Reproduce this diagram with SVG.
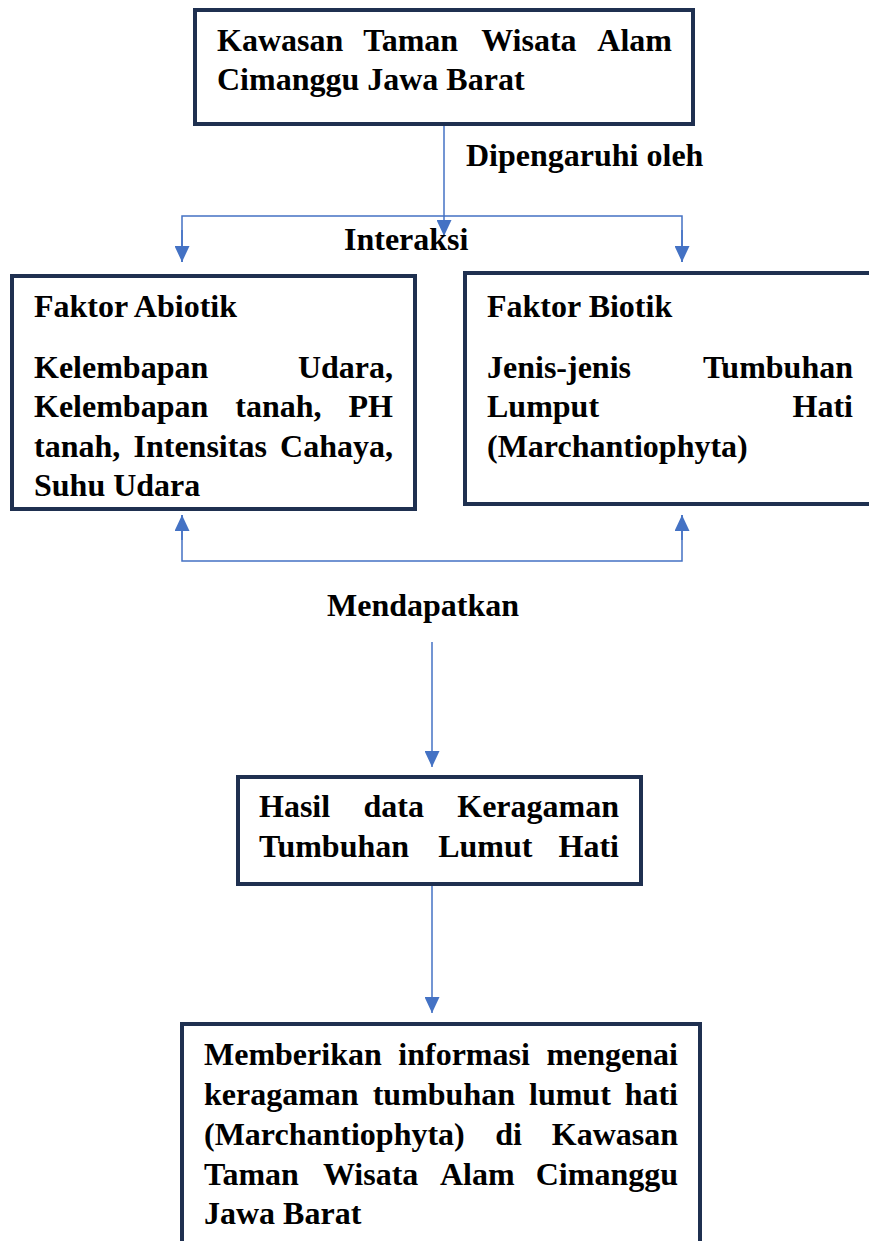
<svg xmlns="http://www.w3.org/2000/svg" width="869" height="1241" viewBox="0 0 869 1241">
<style>
.box{fill:#fff;stroke:#1f3050;stroke-width:4}
.t{font-family:"Liberation Serif","Times New Roman",serif;font-weight:bold;font-size:32px;fill:#000}
.e{text-anchor:end}
.c{fill:none;stroke:#4472c4;stroke-width:1.5}
</style>
<defs>
<marker id="ah" markerUnits="userSpaceOnUse" markerWidth="16" markerHeight="15" refX="16" refY="7.5" orient="auto">
<path d="M0,0 L16,7.5 L0,15 z" fill="#4472c4"/>
</marker>
</defs>
<rect width="869" height="1241" fill="#fff"/>
<g id="connectors">
<line class="c" x1="444" y1="124" x2="444" y2="236" marker-end="url(#ah)"/>
<polyline class="c" points="182,262 182,216 682,216 682,262" />
<line class="c" x1="182" y1="230" x2="182" y2="262" marker-end="url(#ah)"/>
<line class="c" x1="682" y1="230" x2="682" y2="262" marker-end="url(#ah)"/>
<polyline class="c" points="182,515 182,561 682,561 682,515"/>
<line class="c" x1="182" y1="540" x2="182" y2="515" marker-end="url(#ah)"/>
<line class="c" x1="682" y1="540" x2="682" y2="515" marker-end="url(#ah)"/>
<line class="c" x1="432" y1="642" x2="432" y2="767" marker-end="url(#ah)"/>
<line class="c" x1="432" y1="886" x2="432" y2="1013" marker-end="url(#ah)"/>
</g>
<g id="labels">
<text class="t" x="466" y="166">Dipengaruhi oleh</text>
<text class="t" x="344" y="250">Interaksi</text>
<text class="t" x="327" y="616">Mendapatkan</text>
</g>
<g id="node-kawasan">
<rect class="box" x="195" y="10" width="498" height="114"/>
<text class="t" y="51"><tspan x="217">Kawasan</tspan><tspan x="363.3">Taman</tspan><tspan x="481.2">Wisata</tspan><tspan x="672" class="e" text-anchor="end">Alam</tspan></text>
<text class="t" x="217" y="90">Cimanggu Jawa Barat</text>
</g>
<g id="node-abiotik">
<rect class="box" x="12" y="276" width="403" height="233"/>
<text class="t" x="34" y="317">Faktor Abiotik</text>
<text class="t" x="34" y="378">Kelembapan</text>
<text class="t e" x="393" y="378">Udara,</text>
<text class="t" y="417"><tspan x="34">Kelembapan</tspan><tspan x="235.3">tanah,</tspan></text>
<text class="t e" x="393" y="417">PH</text>
<text class="t" y="457"><tspan x="34">tanah,</tspan><tspan x="133.5">Intensitas</tspan></text>
<text class="t e" x="393" y="457">Cahaya,</text>
<text class="t" x="34" y="496">Suhu Udara</text>
</g>
<g id="node-biotik">
<rect class="box" x="465" y="273" width="430" height="231"/>
<text class="t" x="487" y="317">Faktor Biotik</text>
<text class="t" x="487" y="378">Jenis-jenis</text>
<text class="t e" x="853" y="378">Tumbuhan</text>
<text class="t" x="487" y="417">Lumput</text>
<text class="t e" x="853" y="417">Hati</text>
<text class="t" x="487" y="457">(Marchantiophyta)</text>
</g>
<g id="node-hasil">
<rect class="box" x="238" y="777" width="403" height="107"/>
<text class="t" y="817"><tspan x="259">Hasil</tspan><tspan x="363.5">data</tspan></text>
<text class="t e" x="619" y="817">Keragaman</text>
<text class="t" y="857"><tspan x="259">Tumbuhan</tspan><tspan x="438.2">Lumut</tspan></text>
<text class="t e" x="619" y="857">Hati</text>
</g>
<g id="node-informasi">
<rect class="box" x="182" y="1024" width="518" height="240"/>
<text class="t" y="1065"><tspan x="204">Memberikan</tspan><tspan x="398.3">informasi</tspan></text>
<text class="t e" x="678" y="1065">mengenai</text>
<text class="t" y="1105"><tspan x="204">keragaman</tspan><tspan x="372.7">tumbuhan</tspan><tspan x="529">lumut</tspan></text>
<text class="t e" x="678" y="1105">hati</text>
<text class="t" y="1145"><tspan x="204">(Marchantiophyta)</tspan><tspan x="495.2">di</tspan></text>
<text class="t e" x="678" y="1145">Kawasan</text>
<text class="t" y="1185"><tspan x="204">Taman</tspan><tspan x="322.9">Wisata</tspan><tspan x="440">Alam</tspan></text>
<text class="t e" x="678" y="1185">Cimanggu</text>
<text class="t" x="204" y="1224">Jawa Barat</text>
</g>
</svg>
